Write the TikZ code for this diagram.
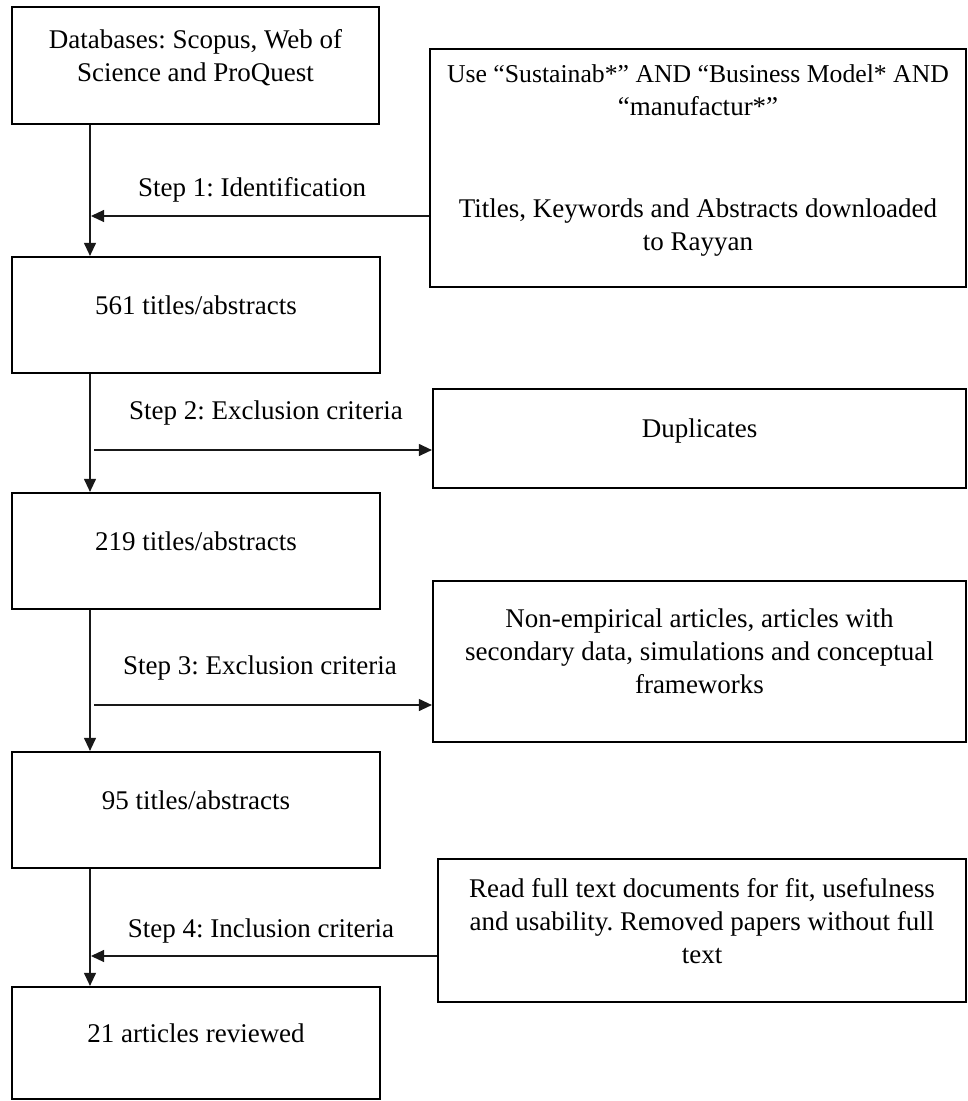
\documentclass[tikz,border=0pt]{standalone}
\usepackage{fontspec}
\setmainfont{Liberation Serif}
\usetikzlibrary{arrows.meta}
\frenchspacing
\begin{document}
\begin{tikzpicture}[x=1pt,y=-1pt,
  box/.style={draw=black, line width=2.2pt, rectangle, inner sep=0pt, align=center,
              font=\fontsize{27}{33}\selectfont\frenchspacing, text depth=20pt},
  lab/.style={font=\fontsize{27}{33}\selectfont\frenchspacing, inner sep=0pt},
  conn/.style={draw=black!90, line width=1.1pt, -{Triangle[length=13pt,width=12pt]}}]
\useasboundingbox (0,0) rectangle (968,1101);

% left column boxes
\node[box, minimum width=367pt, minimum height=117pt] (A) at (195.5,65.5) {Databases: Scopus, Web of\\Science and ProQuest};
\node[box, minimum width=368pt, minimum height=116pt] (B) at (196,315) {561 titles/abstracts};
\node[box, minimum width=368pt, minimum height=116pt] (C) at (196,551) {219 titles/abstracts};
\node[box, minimum width=368pt, minimum height=116pt] (D) at (196,810) {95 titles/abstracts};
\node[box, minimum width=368pt, minimum height=112pt] (E) at (196,1043) {21 articles reviewed};

% right column boxes
\node[box, minimum width=536pt, minimum height=238pt] (R1) at (698,168)
  {{\fontsize{25.7}{33}\selectfont Use “Sustainab*” AND “Business Model* AND}\\“manufactur*”\\[69pt]Titles, Keywords and Abstracts downloaded\\to Rayyan};
\node[box, minimum width=533pt, minimum height=99pt] (R2) at (699.5,438.5) {Duplicates};
\node[box, minimum width=533pt, minimum height=161pt] (R3) at (699.5,661.5)
  {Non-empirical articles, articles with\\secondary data, simulations and conceptual\\frameworks};
\node[box, minimum width=528pt, minimum height=143pt] (R4) at (702,930.5)
  {Read full text documents for fit, usefulness\\and usability. Removed papers without full\\text};

% vertical spine
\coordinate (v) at (90,0);
\draw[conn] (A.south -| v) -- (B.north -| v);
\draw[conn] (B.south -| v) -- (C.north -| v);
\draw[conn] (C.south -| v) -- (D.north -| v);
\draw[conn] (D.south -| v) -- (E.north -| v);

% side connectors
\coordinate (s1) at (91,216);
\coordinate (s2) at (94,450);
\coordinate (s3) at (94,705);
\coordinate (s4) at (91,956);
\draw[conn] (R1.west |- s1) -- (s1);
\draw[conn] (s2) -- (R2.west |- s2);
\draw[conn] (s3) -- (R3.west |- s3);
\draw[conn] (R4.west |- s4) -- (s4);

% step labels
\node[lab] (L1) at (252,190) {Step 1: Identification};
\node[lab] (L2) at (266,413) {Step 2: Exclusion criteria};
\node[lab] (L3) at (260,668) {Step 3: Exclusion criteria};
\node[lab] (L4) at (261,931) {Step 4: Inclusion criteria};
\end{tikzpicture}
\end{document}
